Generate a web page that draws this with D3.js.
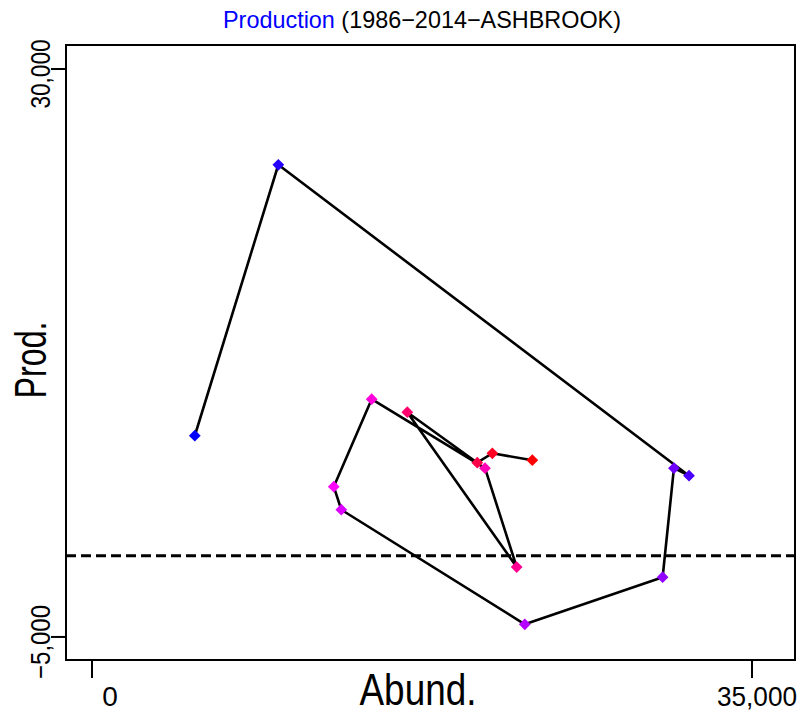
<!DOCTYPE html>
<html>
<head>
<meta charset="utf-8">
<script src="https://cdn.jsdelivr.net/npm/d3@7"></script>
<style>
  body { margin: 0; background: #fff; }
  text { font-family: "Liberation Sans", Arial, sans-serif; }
</style>
</head>
<body>
<svg id="chart" width="811" height="713"></svg>
<script>
// Data (one point every second year)
const years = [1986, 1988, 1990, 1992, 1994, 1996, 1998, 2000, 2002, 2004, 2006, 2008, 2010, 2012, 2014];
const abund = [5450, 9880, 31660, 30860, 30260, 22950, 13220, 12820, 14830, 20840, 22520, 16720, 20430, 21230, 23350];
const prod  = [7400, 24100, 4940, 5400, -1320, -4220, 2840, 4260, 9650, 5400, -690, 8850, 5740, 6320, 5890];
const xTicks = [0, 35000];
const yTicks = [-5000, 30000];

const svg = d3.select("#chart"),
    width = +svg.attr("width"),
    height = +svg.attr("height");

const box = { left: 66, right: 795, top: 45, bottom: 660 };

const x = d3.scaleLinear().domain([-1380, 37280]).range([box.left, box.right]);
const y = d3.scaleLinear().domain([-6420, 31480]).range([box.bottom, box.top]);

const fmt = d3.format(",");
const label = v => fmt(v).replace("-", "\u2212");

// colour ramp blue -> magenta -> red along the years
const hue = d3.scaleLinear().domain([years[0], years[years.length - 1]]).range([240, 360]);
const colour = yr => d3.hsl(hue(yr), 1, 0.5).formatHex();

const points = years.map((yr, i) => ({ year: yr, a: abund[i], p: prod[i] }));

// zero reference line
svg.append("line")
    .attr("x1", box.left).attr("x2", box.right)
    .attr("y1", y(0)).attr("y2", y(0))
    .attr("stroke", "#000")
    .attr("stroke-width", 3)
    .attr("stroke-dasharray", "10,5");

// path joining the years
const line = d3.line().x(d => x(d.a)).y(d => y(d.p));
svg.append("path")
    .datum(points)
    .attr("d", line)
    .attr("fill", "none")
    .attr("stroke", "#000")
    .attr("stroke-width", 2.6)
    .attr("stroke-linejoin", "round");

// diamond markers
const diamond = d3.symbol().type(d3.symbolDiamond2).size(88);
svg.selectAll(".pt")
    .data(points)
    .enter()
    .append("path")
    .attr("class", "pt")
    .attr("d", diamond)
    .attr("transform", d => `translate(${x(d.a)},${y(d.p)})`)
    .attr("fill", d => colour(d.year));

// plot frame
svg.append("rect")
    .attr("x", box.left).attr("y", box.top)
    .attr("width", box.right - box.left)
    .attr("height", box.bottom - box.top)
    .attr("fill", "none")
    .attr("stroke", "#000")
    .attr("stroke-width", 2);

// x axis ticks
svg.selectAll(".xtick")
    .data(xTicks)
    .enter()
    .append("line")
    .attr("x1", d => x(d)).attr("x2", d => x(d))
    .attr("y1", box.bottom).attr("y2", box.bottom + 18)
    .attr("stroke", "#000")
    .attr("stroke-width", 2);

svg.append("text")
    .attr("x", x(0) + 18).attr("y", 706)
    .attr("text-anchor", "middle")
    .attr("font-size", 28)
    .text(label(xTicks[0]));

svg.append("text")
    .attr("x", x(35000) + 5).attr("y", 706)
    .attr("text-anchor", "middle")
    .attr("font-size", 28)
    .attr("textLength", 80)
    .attr("lengthAdjust", "spacingAndGlyphs")
    .text(label(xTicks[1]));

// y axis ticks
svg.selectAll(".ytick")
    .data(yTicks)
    .enter()
    .append("line")
    .attr("x1", box.left - 15).attr("x2", box.left)
    .attr("y1", d => y(d)).attr("y2", d => y(d))
    .attr("stroke", "#000")
    .attr("stroke-width", 2);

svg.selectAll(".ylab")
    .data(yTicks)
    .enter()
    .append("text")
    .attr("transform", d => `translate(50,${y(d) + 5}) rotate(-90)`)
    .attr("text-anchor", "middle")
    .attr("font-size", 28)
    .attr("textLength", d => d < 0 ? 74 : 69)
    .attr("lengthAdjust", "spacingAndGlyphs")
    .text(d => label(d));

// axis titles
svg.append("text")
    .attr("x", 418).attr("y", 705)
    .attr("text-anchor", "middle")
    .attr("font-size", 44)
    .attr("textLength", 117)
    .attr("lengthAdjust", "spacingAndGlyphs")
    .text("Abund.");

svg.append("text")
    .attr("transform", "translate(46,360) rotate(-90)")
    .attr("text-anchor", "middle")
    .attr("font-size", 44)
    .attr("textLength", 77)
    .attr("lengthAdjust", "spacingAndGlyphs")
    .text("Prod.");

// title
const title = svg.append("text")
    .attr("x", 422).attr("y", 28)
    .attr("text-anchor", "middle")
    .attr("font-size", 24)
    .attr("textLength", 398)
    .attr("lengthAdjust", "spacingAndGlyphs");
title.append("tspan").attr("fill", "#0000ff").text("Production");
title.append("tspan").attr("fill", "#000").text(" (1986\u22122014\u2212ASHBROOK)");
</script>
</body>
</html>
